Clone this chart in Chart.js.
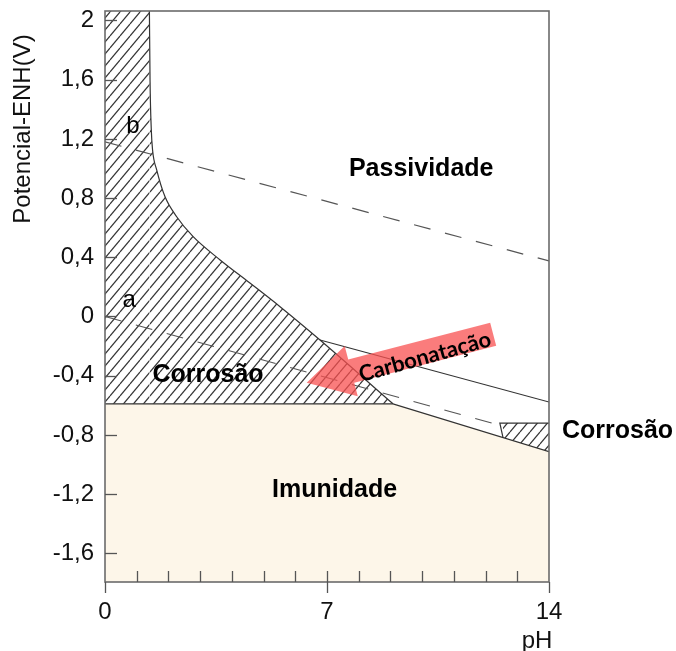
<!DOCTYPE html>
<html>
<head>
<meta charset="utf-8">
<script src="https://cdn.jsdelivr.net/npm/chart.js@4/dist/chart.umd.min.js"></script>
<style>
  html, body { margin: 0; padding: 0; background: #fff; }
  canvas { display: block; }
</style>
</head>
<body>
<canvas id="c" width="676" height="651"></canvas>
<script>
// Pourbaix diagram of iron (potential vs pH)
const E_MIN = -1.794, E_MAX = 2.064;

const yTicks = [-1.6, -1.2, -0.8, -0.4, 0, 0.4, 0.8, 1.2, 1.6, 2];
const xTicks = [0, 7, 14];

// immunity boundary (Fe metal stable below)
const phImmunity = [0, 9.08, 14];
const eImmunity = [-0.59, -0.59, -0.913];

// acid corrosion field: left strip up to the Fe3+ boundary
const phStrip = [0, 1.40];
const eStrip = [E_MAX, E_MAX];

// Fe3+/Fe2+ corrosion boundary against the oxide field
const phFe3Edge = [1.40, 1.42, 1.46, 1.50, 1.63, 1.89, 2.26, 2.78, 3.63, 4.57, 5.52, 6.78, 9.08];
const eFe3Edge = [E_MAX, 1.6, 1.26, 1.125, 0.99, 0.81, 0.674, 0.539, 0.382, 0.226, 0.066, -0.159, -0.59];

// alkaline corrosion field (HFeO2-): outline and lower edge on the immunity line
const phAlkaline = [12.55, 12.45, 14];
const eAlkaline = [-0.818, -0.72, -0.72];
const phAlkalineBase = [12.55, 14];
const eAlkalineBase = [-0.818, -0.913];
const E_ALKALINE_TOP = -0.72;

// Fe3O4 / Fe2O3 boundary
const phOxide = [6.78, 14];
const eOxide = [-0.159, -0.578];

// water stability lines
const phLineA = [0, 12.45];
const eLineA = [0, -0.735];
const phLineB = [0, 14];
const eLineB = [1.18, 0.375];

// carbonation arrow (tip, tail) in pH / V
const arrowTip = [6.36, -0.447];
const arrowTail = [12.24, -0.12];

const regionLabels = [
  { text: 'Passividade', ph: 9.97, e: 0.949 },
  { text: 'Corrosão', ph: 3.25, e: -0.44 },
  { text: 'Imunidade', ph: 7.24, e: -1.22 },
  { text: 'Corrosão', ph: 16.16, e: -0.823 }
];
const lineLabels = [
  { text: 'a', ph: 0.76, e: 0.062 },
  { text: 'b', ph: 0.88, e: 1.238 }
];

const pts = (xs, ys) => xs.map((v, i) => ({ x: v, y: ys[i] }));

function makeHatch() {
  const w = 10, h = 12;
  const t = document.createElement('canvas');
  t.width = w; t.height = h;
  const g = t.getContext('2d');
  g.strokeStyle = '#333';
  g.lineWidth = 1.2;
  for (const dx of [-w, 0, w]) {
    g.beginPath();
    g.moveTo(dx, h);
    g.lineTo(dx + w, 0);
    g.stroke();
  }
  return g.createPattern(t, 'repeat');
}
const hatch = makeHatch();

const FONT = "'Liberation Sans', Arial, sans-serif";
Chart.defaults.font.family = FONT;

const noScalePadding = s => { s.paddingTop = 0; s.paddingBottom = 0; s.paddingLeft = 0; s.paddingRight = 0; };

const overlay = {
  id: 'overlay',
  afterDatasetsDraw(chart) {
    const { ctx, scales: { x, y } } = chart;
    const tx = x.getPixelForValue(arrowTip[0]), ty = y.getPixelForValue(arrowTip[1]);
    const sx = x.getPixelForValue(arrowTail[0]), sy = y.getPixelForValue(arrowTail[1]);
    const ang = Math.atan2(sy - ty, sx - tx);
    const L = Math.hypot(sx - tx, sy - ty);
    const headLen = 46, headW = 52, shaftW = 24;
    ctx.save();
    ctx.translate(tx, ty);
    ctx.rotate(ang);
    ctx.beginPath();
    ctx.moveTo(0, 0);
    ctx.lineTo(headLen, -headW / 2);
    ctx.lineTo(headLen, -shaftW / 2);
    ctx.lineTo(L, -shaftW / 2);
    ctx.lineTo(L, shaftW / 2);
    ctx.lineTo(headLen, shaftW / 2);
    ctx.lineTo(headLen, headW / 2);
    ctx.closePath();
    ctx.fillStyle = 'rgba(248, 80, 80, 0.75)';
    ctx.fill();
    ctx.restore();
  },
  afterDraw(chart) {
    const { ctx, chartArea: a, scales: { x, y } } = chart;
    ctx.save();
    const seg = (x1, y1, x2, y2) => { ctx.beginPath(); ctx.moveTo(x1, y1); ctx.lineTo(x2, y2); ctx.stroke(); };

    // plot frame
    ctx.strokeStyle = '#6b6b6b';
    ctx.lineWidth = 1.6;
    ctx.strokeRect(a.left, a.top, a.right - a.left, a.bottom - a.top);

    // inward tick marks
    ctx.strokeStyle = '#555';
    ctx.lineWidth = 1.3;
    yTicks.forEach(v => { const py = Math.round(y.getPixelForValue(v)) + 0.5; seg(a.left, py, a.left + 12, py); });
    for (let p = 1; p < 14; p++) {
      const px = Math.round(x.getPixelForValue(p)) + 0.5;
      seg(px, a.bottom, px, a.bottom - 11);
    }
    xTicks.forEach(p => { const px = Math.round(x.getPixelForValue(p)) + 0.5; seg(px, a.bottom, px, a.bottom + 11); });

    // carbonation label
    const cx = x.getPixelForValue(10.09), cy = y.getPixelForValue(-0.274);
    ctx.save();
    ctx.translate(cx, cy);
    ctx.rotate(-15.5 * Math.PI / 180);
    ctx.fillStyle = '#000';
    ctx.font = "bold 22px Lato, 'Open Sans', sans-serif";
    ctx.textAlign = 'center';
    ctx.textBaseline = 'middle';
    ctx.fillText('Carbonatação', 0, 0);
    ctx.restore();

    // region names
    ctx.fillStyle = '#000';
    ctx.textAlign = 'center';
    ctx.textBaseline = 'alphabetic';
    ctx.font = 'bold 25px ' + FONT;
    regionLabels.forEach(l => ctx.fillText(l.text, x.getPixelForValue(l.ph), y.getPixelForValue(l.e)));
    ctx.font = '24px ' + FONT;
    lineLabels.forEach(l => ctx.fillText(l.text, x.getPixelForValue(l.ph), y.getPixelForValue(l.e)));

    // axis titles
    ctx.fillStyle = '#111';
    ctx.font = '24px ' + FONT;
    ctx.fillText('pH', a.right - 12, a.bottom + 66);
    ctx.save();
    ctx.translate(a.left - 82, a.top + 118);
    ctx.rotate(-Math.PI / 2);
    ctx.textBaseline = 'middle';
    ctx.fillText('Potencial-ENH(V)', 0, 0);
    ctx.restore();

    ctx.restore();
  }
};

const solid = '#333';
const dashed = '#555';

new Chart(document.getElementById('c'), {
  type: 'scatter',
  data: {
    datasets: [
      { data: pts(phImmunity, eImmunity), showLine: true, fill: 'start', backgroundColor: '#fdf6e9',
        borderColor: solid, borderWidth: 1.2, order: 10 },
      { data: pts(phStrip, eStrip), showLine: true, fill: { value: -0.59 }, backgroundColor: hatch,
        borderWidth: 0, order: 8 },
      { data: pts(phFe3Edge, eFe3Edge), showLine: true, fill: { value: -0.59 }, backgroundColor: hatch,
        borderColor: solid, borderWidth: 1.2, cubicInterpolationMode: 'monotone', order: 7 },
      { data: pts(phAlkalineBase, eAlkalineBase), showLine: true, fill: { value: E_ALKALINE_TOP },
        backgroundColor: hatch, borderWidth: 0, order: 6 },
      { data: pts(phAlkaline, eAlkaline), showLine: true, fill: false, borderColor: solid, borderWidth: 1.2, order: 2 },
      { data: pts(phOxide, eOxide), showLine: true, fill: false, borderColor: solid, borderWidth: 1.2, order: 2 },
      { data: pts(phLineA, eLineA), showLine: true, fill: false, borderColor: dashed, borderWidth: 1.2,
        borderDash: [17, 15], order: 1 },
      { data: pts(phLineB, eLineB), showLine: true, fill: false, borderColor: dashed, borderWidth: 1.2,
        borderDash: [17, 15], order: 1 }
    ]
  },
  options: {
    responsive: false,
    animation: false,
    events: [],
    elements: { point: { radius: 0 } },
    layout: { padding: { left: 0, right: 127, top: 11, bottom: 0 } },
    plugins: { legend: { display: false }, tooltip: { enabled: false } },
    scales: {
      x: {
        type: 'linear', min: 0, max: 14,
        grid: { display: false, drawTicks: false },
        border: { display: false },
        afterBuildTicks: s => { s.ticks = xTicks.map(v => ({ value: v })); },
        afterFit: s => { s.height = 69; noScalePadding(s); },
        ticks: { color: '#111', font: { size: 24 }, padding: 16, maxRotation: 0 }
      },
      y: {
        type: 'linear', min: E_MIN, max: E_MAX,
        grid: { display: false, drawTicks: false },
        border: { display: false },
        afterBuildTicks: s => { s.ticks = yTicks.map(v => ({ value: v })); },
        afterFit: s => { s.width = 105; noScalePadding(s); },
        ticks: { color: '#111', font: { size: 24 }, padding: 11,
          callback: v => String(v).replace('.', ',') }
      }
    }
  },
  plugins: [overlay]
});
</script>
</body>
</html>
